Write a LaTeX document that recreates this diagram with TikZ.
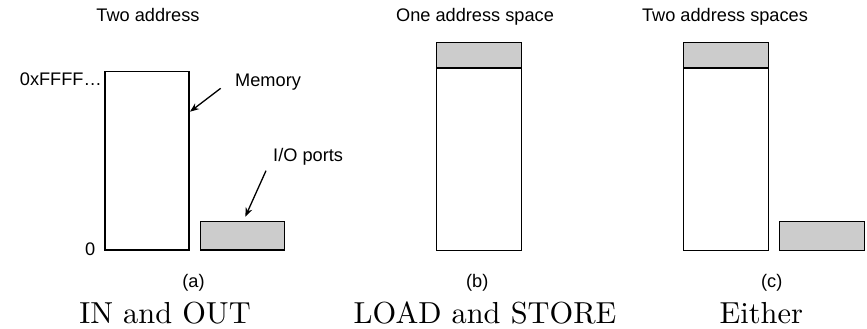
\documentclass[tikz,border=0pt]{standalone}
\usepackage{fontspec}
\setsansfont{Liberation Sans}
\newfontfamily\lmten{lmroman10-regular}[Extension=.otf]
\usetikzlibrary{arrows.meta}
\tikzset{
  lbl/.style={font=\sffamily\fontsize{18.2}{20}\selectfont, inner sep=0pt, anchor=base},
  captxt/.style={font=\lmten\fontsize{30.4}{34}\selectfont, inner sep=0pt, anchor=base},
  blk/.style={draw=black, line width=1.3pt, inner sep=0pt, anchor=north west, rectangle},
  gblk/.style={blk, fill=black!20},
  arr/.style={-{Stealth[length=9pt,width=7pt]}, line width=1.3pt},
}
\begin{document}
\begin{tikzpicture}[x=1pt,y=-1pt]
\useasboundingbox (0,0) rectangle (867,329);
% panel (a)
\node[lbl] (ta) at (148,21.5) {Two address};
\node[blk, minimum width=84pt, minimum height=178pt] (mema) at (104.3,71.2) {};
\node[gblk, minimum width=84.5pt, minimum height=28.5pt] (ioa) at (199.5,220.8) {};
\node[lbl, anchor=base east] (ffff) at (102,85) {0xFFFF\ldots};
\node[lbl, anchor=base east] (zero) at (95.5,255.5) {0};
\node[lbl, anchor=base west] (memt) at (235,86.5) {Memory};
\node[lbl, anchor=base west] (iot) at (273,161.5) {I/O ports};
\coordinate (m1) at (220.7,88.3);
\coordinate (m2) at (190,111.7);
\coordinate (i1) at (266,170.7);
\coordinate (i2) at (245.3,216.7);
\draw[arr] (m1) -- (m2);
\draw[arr] (i1) -- (i2);
\node[lbl] (pa) at (193.5,287) {(a)};
\node[captxt] (ca) at (165,323.8) {IN and OUT};
% panel (b)
\node[lbl] (tb) at (475,21.5) {One address space};
\node[gblk, minimum width=85pt, minimum height=25.6pt] (gb) at (435.7,41.7) {};
\node[blk, minimum width=85pt, minimum height=182.7pt] (mb) at (435.7,67.3) {};
\node[lbl] (pb) at (477.3,287) {(b)};
\node[captxt] (cb) at (485,323.8) {LOAD and STORE};
% panel (c)
\node[lbl] (tc) at (725,21.5) {Two address spaces};
\node[gblk, minimum width=85pt, minimum height=25.6pt] (gc) at (682.7,41.7) {};
\node[blk, minimum width=85pt, minimum height=182.7pt] (mc) at (682.7,67.3) {};
\node[gblk, minimum width=84.7pt, minimum height=29.3pt] (ioc) at (779,220.7) {};
\node[lbl] (pc) at (771.7,287) {(c)};
\node[captxt] (cc) at (761.3,323.8) {Either};
\end{tikzpicture}
\end{document}
